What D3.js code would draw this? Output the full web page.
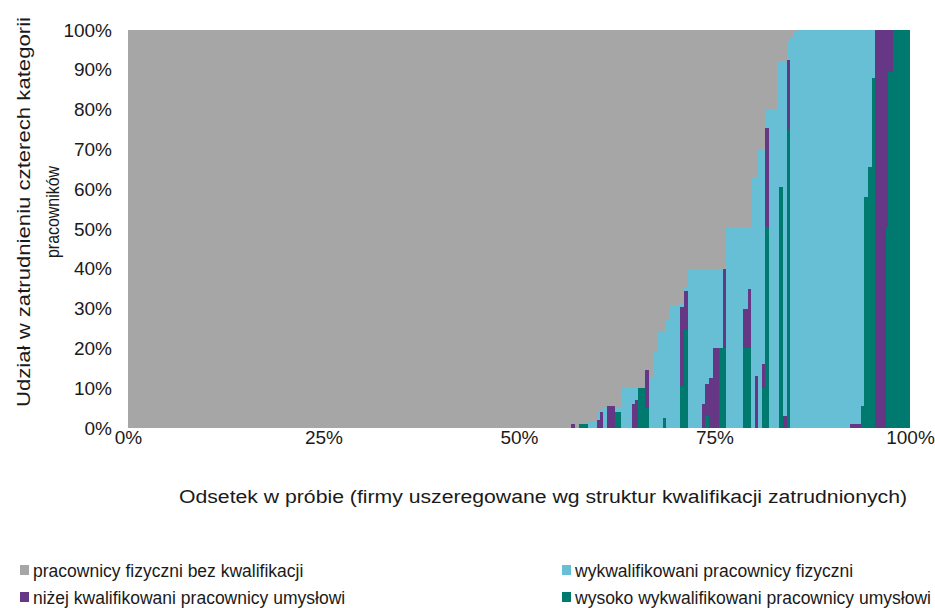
<!DOCTYPE html>
<html>
<head>
<meta charset="utf-8">
<script src="https://cdn.jsdelivr.net/npm/d3@7"></script>
<style>
  body { margin: 0; background: #fff; }
  svg { display: block; font-family: "Liberation Sans", Arial, sans-serif; }
</style>
</head>
<body>
<svg id="chart" width="935" height="608"></svg>
<script>
// ---- data (firms sorted by qualification structure) ----
const firmStart = [0, 56.65, 57.16, 57.67, 58.82, 59.97, 60.36, 60.74, 61.25, 62.28, 63.04, 64.45, 64.83, 65.22, 66.11, 66.62, 67.14, 67.77, 68.41, 68.80, 69.31, 70.59, 71.10, 71.61, 73.40, 73.79, 74.30, 74.81, 75.58, 76.09, 76.47, 78.64, 79.28, 79.67, 80.18, 80.56, 81.07, 81.46, 81.97, 82.99, 83.25, 83.76, 84.27, 84.65, 85.17, 85.55, 92.33, 93.73, 94.12, 94.63, 95.14, 95.52, 96.93, 97.19, 97.83];
const wysokoUmyslowi = [0, 0, 0, 1, 0, 0, 0, 0, 0, 4, 0, 0, 0, 10, 5, 0, 0, 0, 2.5, 0, 0, 10.5, 24.5, 0, 0, 3, 0, 0, 20, 20, 0, 20, 20, 0, 0, 0, 10, 50.5, 0, 0, 60.5, 0, 75, 0, 0, 0, 0, 5.5, 58, 65.5, 88, 0, 50.5, 89.5, 100];
const nizejUmyslowi = [0, 1, 0, 0, 0, 2, 4, 0, 5.5, 0, 0, 6, 7, 0, 9.5, 0, 0, 0, 0, 0, 0, 20, 10, 0, 6, 8, 12.5, 20, 0, 20, 0, 10, 15, 0, 13, 0, 6, 25, 0, 0, 0, 3, 17.5, 0, 0, 0, 1, 0, 0, 0, 0, 100, 49.5, 10.5, 0];
const wykwFizyczni = [0, 0, 0, 0, 1.5, 2, 0.5, 5, 0, 1, 10, 4, 3, 0, 0, 12.5, 19, 24, 21.5, 27.5, 31, 1, 1, 40, 34, 29, 27.5, 20, 20, 0, 50.5, 20.5, 15.5, 63, 50, 70, 54, 4.5, 80, 92, 31.5, 89, 4.5, 98, 99.5, 100, 99, 94.5, 42, 34.5, 12, 0, 0, 0, 0];
const bezKwalifikacji = [100, 99, 100, 99, 98.5, 96, 95.5, 95, 94.5, 95, 90, 90, 90, 90, 85.5, 87.5, 81, 76, 76, 72.5, 69, 68.5, 64.5, 60, 60, 60, 60, 60, 60, 60, 49.5, 49.5, 49.5, 37, 37, 30, 30, 20, 20, 8, 8, 8, 3, 2, 0.5, 0, 0, 0, 0, 0, 0, 0, 0, 0, 0];

const seriesKeys = ["wysoko", "nizej", "wykw", "bez"]; // stacking order bottom -> top
const seriesNames = {
  bez: "pracownicy fizyczni bez kwalifikacji",
  wykw: "wykwalifikowani pracownicy fizyczni",
  nizej: "niżej kwalifikowani pracownicy umysłowi",
  wysoko: "wysoko wykwalifikowani pracownicy umysłowi"
};
const seriesColors = { bez: "#a6a6a6", wykw: "#66bfd5", nizej: "#653785", wysoko: "#007a6e" };
const legendOrder = ["bez", "wykw", "nizej", "wysoko"];

const xTicks = [0, 25, 50, 75, 100];
const yTicks = [0, 10, 20, 30, 40, 50, 60, 70, 80, 90, 100];

// ---- build ----
const firms = firmStart.map((s, i) => ({
  start: s,
  end: i < firmStart.length - 1 ? firmStart[i + 1] : 100,
  wysoko: wysokoUmyslowi[i],
  nizej: nizejUmyslowi[i],
  wykw: wykwFizyczni[i],
  bez: bezKwalifikacji[i]
}));

const svg = d3.select("#chart");
const x = d3.scaleLinear().domain([0, 100]).range([128, 910]);
const y = d3.scaleLinear().domain([0, 100]).range([428, 30]);

const stacked = d3.stack().keys(seriesKeys)(firms);

svg.append("g").selectAll("g")
  .data(stacked)
  .join("g")
  .attr("fill", d => seriesColors[d.key])
  .selectAll("rect")
  .data(d => d)
  .join("rect")
  .attr("shape-rendering", "crispEdges")
  .attr("x", d => x(d.data.start))
  .attr("width", d => x(d.data.end) - x(d.data.start))
  .attr("y", d => y(d[1]))
  .attr("height", d => y(d[0]) - y(d[1]));

const textColor = "#1a1a1a";

// axes
const yAxis = svg.append("g")
  .attr("transform", `translate(${x(0)},0)`)
  .call(d3.axisLeft(y).tickValues(yTicks).tickFormat(d => d + "%").tickSize(0).tickPadding(16));
yAxis.select(".domain").remove();
yAxis.selectAll("text").attr("font-size", 19).attr("fill", textColor).attr("font-family", null);

const xAxis = svg.append("g")
  .attr("transform", `translate(0,${y(0)})`)
  .call(d3.axisBottom(x).tickValues(xTicks).tickFormat(d => d + "%").tickSize(0).tickPadding(2));
xAxis.select(".domain").remove();
xAxis.selectAll("text").attr("font-size", 19).attr("fill", textColor).attr("font-family", null);

// axis titles
svg.append("text")
  .attr("transform", "translate(23,212) rotate(-90)")
  .attr("text-anchor", "middle").attr("dominant-baseline", "central")
  .attr("font-size", 19).attr("fill", textColor)
  .attr("textLength", 390).attr("lengthAdjust", "spacingAndGlyphs")
  .text("Udział w zatrudnieniu czterech kategorii");
svg.append("text")
  .attr("transform", "translate(52,212) rotate(-90)")
  .attr("text-anchor", "middle").attr("dominant-baseline", "central")
  .attr("font-size", 19).attr("fill", textColor)
  .attr("textLength", 92).attr("lengthAdjust", "spacingAndGlyphs")
  .text("pracowników");

svg.append("text")
  .attr("x", 543).attr("y", 497)
  .attr("text-anchor", "middle").attr("dominant-baseline", "central")
  .attr("font-size", 18).attr("fill", textColor)
  .attr("textLength", 728).attr("lengthAdjust", "spacingAndGlyphs")
  .text("Odsetek w próbie (firmy uszeregowane wg struktur kwalifikacji zatrudnionych)");

// legend
const legendPos = [[20, 570], [562, 570], [20, 597], [562, 597]];
const lg = svg.append("g").selectAll("g")
  .data(legendOrder)
  .join("g")
  .attr("transform", (d, i) => `translate(${legendPos[i][0]},${legendPos[i][1]})`);
lg.append("rect").attr("x", 0).attr("y", -5).attr("width", 9).attr("height", 10)
  .attr("fill", d => seriesColors[d]);
lg.append("text").attr("x", 13).attr("y", 1).attr("dominant-baseline", "central")
  .attr("font-size", 17.5).attr("fill", textColor)
  .text(d => seriesNames[d]);
</script>
</body>
</html>
